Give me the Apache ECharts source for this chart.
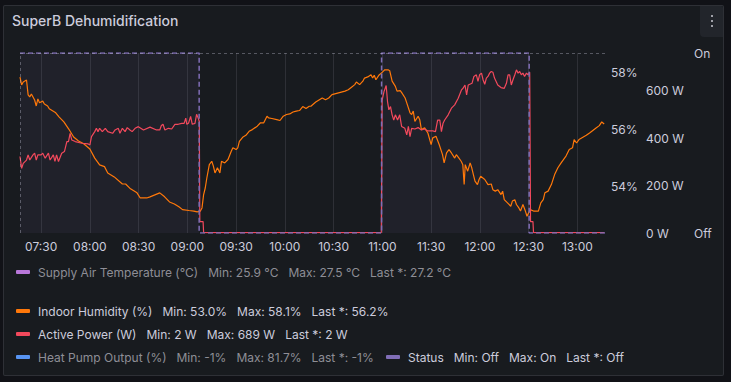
<!DOCTYPE html>
<html>
<head>
<meta charset="utf-8">
<script src="https://cdn.jsdelivr.net/npm/echarts@6/dist/echarts.min.js"></script>
<style>
html,body{margin:0;padding:0;background:#111217;width:731px;height:382px;overflow:hidden;}
#panel{position:absolute;left:3px;top:5px;width:721px;height:371px;background:#181b1f;border:1px solid rgba(204,204,220,0.12);border-radius:2px;box-sizing:border-box;}
#menu{position:absolute;left:700px;top:6px;width:23px;height:31px;background:#22252b;border-radius:0 2px 0 4px;}
#menu i{position:absolute;left:11px;width:2px;height:2px;background:#9fa0a8;}
#chart{position:absolute;left:0;top:0;width:731px;height:382px;}
</style>
</head>
<body>
<div id="panel"></div>
<div id="menu"><i style="top:9px"></i><i style="top:14px"></i><i style="top:19px"></i></div>
<div id="chart"></div>
<script>
// ---------- data ----------
const timeRange = ['07:17', '13:17'];
const timeTicks = ['07:30','08:00','08:30','09:00','09:30','10:00','10:30','11:00','11:30','12:00','12:30','13:00'];

const humidity = [
 ['07:17',57.84],['07:18',57.57],['07:19',57.67],['07:21',57.74],['07:22',57.22],['07:23',57.15],
 ['07:24',57.25],['07:26',57.04],['07:27',56.83],['07:28',57.08],['07:29',56.94],['07:31',57.00],
 ['07:32',56.90],['07:34',56.83],['07:35',56.73],['07:39',56.59],['07:41',56.45],['07:44',56.27],
 ['07:47',56.02],['07:50',55.74],['07:53',55.60],['07:56',55.51],['08:00',55.32],['08:03',55.00],
 ['08:06',54.76],['08:09',54.70],['08:11',54.48],['08:15',54.34],['08:20',54.09],['08:22',54.09],
 ['08:25',53.92],['08:29',53.78],['08:31',53.60],['08:35',53.60],['08:37',53.64],['08:43',53.78],
 ['08:46',53.64],['08:49',53.46],['08:52',53.39],['08:55',53.28],['08:57',53.19],['09:01',53.16],
 ['09:04',53.14],['09:06',53.11],['09:08',53.14],['09:09',53.25],['09:10',53.72],['09:11',53.95],
 ['09:12',54.31],['09:13:30',54.77],['09:15',54.89],['09:16',54.72],['09:17',54.48],['09:18:30',54.66],
 ['09:20',54.48],['09:21',54.89],['09:23',54.83],['09:25',54.95],['09:27',55.24],['09:28',55.36],
 ['09:30',55.30],['09:31',55.36],['09:32',55.59],['09:34',55.73],['09:36',55.80],['09:38',55.94],
 ['09:40',56.00],['09:43',56.12],['09:45',56.24],['09:47',56.24],['09:49',56.47],['09:50',56.41],
 ['09:52',56.39],['09:55',56.35],['09:57',56.32],['09:59',56.47],['10:01',56.53],['10:03',56.55],
 ['10:05',56.62],['10:07',56.65],['10:09',56.67],['10:11',56.81],['10:13',56.74],['10:15',56.82],
 ['10:16',56.82],['10:19',56.97],['10:23',57.11],['10:25',57.05],['10:27',57.11],['10:29',57.23],
 ['10:33',57.29],['10:37',57.35],['10:39',57.40],['10:41',57.49],['10:43',57.58],['10:44',57.67],
 ['10:46',57.58],['10:48',57.70],['10:49',57.81],['10:51',57.85],['10:53',57.93],['10:54',57.81],
 ['10:55',57.91],['10:56',57.75],['10:58',57.92],['11:00',58.02],['11:01:30',58.10],['11:03:30',58.10],
 ['11:04:30',58.07],['11:06',57.70],['11:08',57.52],['11:09',57.35],['11:11',57.37],['11:12',57.29],
 ['11:14',57.11],['11:15',56.94],['11:17',56.59],['11:18',56.53],['11:19',56.65],['11:20',56.29],
 ['11:22',56.47],['11:23',56.35],['11:24',56.00],['11:26',56.06],['11:28',55.88],['11:30',55.47],
 ['11:31',55.71],['11:33',55.77],['11:35',55.47],['11:37',55.12],['11:38',54.83],['11:39:30',55.18],
 ['11:41',55.30],['11:42:30',55.18],['11:44:30',55.00],['11:45:30',55.12],['11:47',55.01],['11:48:30',54.89],
 ['11:49:30',54.77],['11:50:20',54.07],['11:51',54.77],['11:52:30',54.54],['11:54',54.83],['11:55',54.66],
 ['11:56',54.42],['11:57',54.19],['11:58:30',54.07],['11:59:30',54.25],['12:00:30',54.36],['12:03',54.25],
 ['12:05',54.07],['12:07',54.09],['12:08',53.89],['12:09:30',53.84],['12:11',53.89],['12:13',53.72],
 ['12:14',53.84],['12:15',53.54],['12:17',53.43],['12:19',53.31],['12:20',53.49],['12:21:30',53.54],
 ['12:22:30',53.37],['12:24',53.25],['12:25',53.14],['12:26:30',53.37],['12:28',53.14],['12:29',52.96],
 ['12:30',53.08],['12:31',53.19],['12:33',53.14],['12:35',53.14],['12:36',53.14],['12:37:30',53.43],
 ['12:39',53.54],['12:40',53.78],['12:42',53.84],['12:44',54.07],['12:46',54.42],['12:48',54.66],
 ['12:50',54.83],['12:53',55.07],['12:55',55.30],['12:57',55.36],['12:58',55.65],['12:59:30',55.53],
 ['13:01',55.65],['13:05:30',55.80],['13:07:30',55.88],['13:11:30',56.06],['13:13:30',56.14],['13:15',56.27],
 ['13:16:30',56.20]
];

const activePower = [
 ['07:17',323],['07:18',273],['07:19',294],['07:21',308],['07:22',330],['07:23',308],['07:25',330],
 ['07:26',337],['07:27',308],['07:28',330],['07:30',330],['07:31',337],['07:32:30',316],['07:34:30',337],
 ['07:35:30',308],['07:37:30',330],['07:38:30',302],['07:39:30',330],['07:40:40',302],['07:42:40',337],
 ['07:44:20',344],['07:45:50',386],['07:46:50',386],['07:47:50',421],['07:48:50',393],['07:51',386],
 ['07:55',379],['07:59',376],['08:00',372],['08:01',407],['08:03',428],['08:04',442],['08:05',428],
 ['08:06',442],['08:07:40',428],['08:09:30',442],['08:11',428],['08:14',421],['08:15:30',435],
 ['08:17:30',442],['08:18:30',421],['08:20',442],['08:21:40',428],['08:23',445],['08:24:40',435],
 ['08:26',428],['08:27:50',442],['08:29:50',449],['08:33',435],['08:37',447],['08:41',435],['08:43',435],
 ['08:44',454],['08:45',459],['08:46:10',435],['08:48:20',442],['08:50:20',439],['08:52:20',459],
 ['08:54:20',459],['08:56:30',463],['08:58',463],['08:59',485],['08:59:40',459],['09:00:40',463],
 ['09:02',492],['09:03',459],['09:04:40',463],['09:05:40',501],['09:06:40',485],['09:07:20',471],
 ['09:07:40',48],['09:09:40',48],['09:10',2],['10:59:20',2],['10:59:50',560],['11:01',597],
 ['11:02:20',623],['11:03:10',555],['11:04',520],['11:05',534],['11:06',499],['11:07',477],['11:08',499],
 ['11:09:20',477],['11:10:40',499],['11:11:50',450],['11:13:50',442],['11:15',414],['11:16',450],
 ['11:17',407],['11:18',442],['11:20',439],['11:22',445],['11:24',435],['11:26',439],['11:28',431],
 ['11:31',431],['11:32:40',428],['11:34',477],['11:35:20',477],['11:36:20',428],['11:37:20',463],
 ['11:38:20',477],['11:40:30',499],['11:42:30',527],['11:44:30',541],['11:46:40',569],['11:48:40',604],
 ['11:49:40',611],['11:50:50',625],['11:51:50',583],['11:52:50',625],['11:53:50',628],['11:55:10',632],
 ['11:56:20',661],['11:57:50',668],['11:58:50',640],['11:59:50',668],['12:01',675],['12:02',646],
 ['12:03',628],['12:04',654],['12:05',661],['12:06',675],['12:07',682],['12:08',679],['12:09',654],
 ['12:10',640],['12:11',625],['12:13',614],['12:15',611],['12:16:20',632],['12:17:20',668],['12:18:20',668],
 ['12:19:20',625],['12:20:20',646],['12:21:30',668],['12:22:30',689],['12:23:30',675],['12:24:30',682],
 ['12:25:30',668],['12:26:30',675],['12:27:30',661],['12:28:40',675],['12:29:40',668],['12:30:40',679],
 ['12:31:10',48],['12:32:40',48],['12:33',2],['13:16:30',2]
];

// 1 = On, 0 = Off (change points)
const status = [['07:17',1],['09:07:15',0],['10:59:30',1],['12:30:20',0],['13:17',0]];

// hidden series (no drawn data)
const supplyAirTemp = [];
const heatPumpOutput = [];

const humidityTicks = [54, 56, 58];
const powerTicks = [0, 200, 400, 600];
const statusTicks = [0, 1];
const statusLabels = ['Off', 'On'];

const legendNames = ['Supply Air Temperature (°C)', 'Indoor Humidity (%)', 'Active Power (W)', 'Heat Pump Output (%)', 'Status'];
const legendMin = ['25.9 °C', '53.0%', '2 W', '-1%', 'Off'];
const legendMax = ['27.5 °C', '58.1%', '689 W', '81.7%', 'On'];
const legendLast = ['27.2 °C', '56.2%', '2 W', '-1%', 'Off'];
const legendHidden = [true, false, false, true, false];

// ---------- style / layout ----------
const seriesColors = ['#B877D9', '#FF780A', '#F2495C', '#5794F2', '#806EB7'];
const legendLeft = [16, 16, 16, 16, 386];
const legendTop = [265, 304, 327, 350, 350];
const txt = '#ccccdc';
const txtDim = '#8e8e96';
const FONT = 'Inter';

function ts(s) {
  const p = s.split(':').map(Number);
  return new Date(2024, 0, 15, p[0], p[1], p[2] || 0).getTime();
}
function hhmm(v) {
  const d = new Date(v);
  return String(d.getHours()).padStart(2, '0') + ':' + String(d.getMinutes()).padStart(2, '0');
}
const toPairs = arr => arr.map(d => [ts(d[0]), d[1]]);
const tickValues = timeTicks.map(ts);

const legends = legendNames.map((name, i) => {
  const c = legendHidden[i] ? txtDim : txt;
  return {
    data: [{ name: name }],
    left: legendLeft[i], top: legendTop[i], padding: 0,
    icon: 'roundRect', itemWidth: 14, itemHeight: 4,
    selectedMode: false,
    itemStyle: { borderWidth: 0 },
    formatter: n => '{n|' + n + '}{v|Min: ' + legendMin[i] + '}{v|Max: ' + legendMax[i] + '}{v|Last *: ' + legendLast[i] + '}',
    textStyle: {
      color: c, fontSize: 12, fontFamily: FONT, lineHeight: 14,
      rich: {
        n: { color: c, fontSize: 12, fontFamily: FONT, padding: [0, 0, 0, 3] },
        v: { color: c, fontSize: 12, fontFamily: FONT, padding: [0, 0, 0, 10] }
      }
    }
  };
});

const axisLabelBase = { color: txt, fontSize: 12, fontFamily: FONT };

const chart = echarts.init(document.getElementById('chart'), null, { renderer: 'svg' });
chart.setOption({
  animation: false,
  backgroundColor: 'transparent',
  textStyle: { fontFamily: FONT },
  title: {
    text: 'SuperB Dehumidification', left: 12, top: 13, padding: 0,
    textStyle: { color: txt, fontSize: 14, fontWeight: 500, fontFamily: FONT }
  },
  legend: legends,
  grid: { left: 20, right: 126, top: 53, bottom: 149, containLabel: false, outerBoundsMode: 'none' },
  xAxis: {
    type: 'value', min: ts(timeRange[0]), max: ts(timeRange[1]), scale: true,
    axisLine: { show: false },
    axisTick: { show: false, customValues: tickValues },
    splitLine: { show: false },
    axisLabel: Object.assign({}, axisLabelBase, {
      margin: 7, customValues: tickValues, hideOverlap: false, formatter: v => hhmm(v)
    })
  },
  yAxis: [
    {
      type: 'value', position: 'right', min: 52.37, max: 58.69, offset: 0,
      axisLine: { show: false }, axisTick: { show: false }, splitLine: { show: false },
      axisLabel: Object.assign({}, axisLabelBase, { margin: 6, customValues: humidityTicks, formatter: v => v + '%' })
    },
    {
      type: 'value', position: 'right', min: 0, max: 760, offset: 33,
      axisLine: { show: false }, axisTick: { show: false }, splitLine: { show: false },
      axisLabel: Object.assign({}, axisLabelBase, { margin: 8, customValues: powerTicks, formatter: v => v + ' W' })
    },
    {
      type: 'value', position: 'right', min: 0, max: 1, offset: 81,
      axisLine: { show: false }, axisTick: { show: false }, splitLine: { show: false },
      axisLabel: Object.assign({}, axisLabelBase, { margin: 8, customValues: statusTicks, formatter: v => statusLabels[Math.round(v)] })
    }
  ],
  series: [
    { name: legendNames[0], type: 'line', yAxisIndex: 0, z: 1, data: toPairs(supplyAirTemp), showSymbol: false,
      itemStyle: { color: seriesColors[0] }, lineStyle: { color: seriesColors[0], width: 1 },
      markLine: {
        silent: true, symbol: 'none', label: { show: false }, z: 1,
        lineStyle: { color: 'rgba(204,204,220,0.12)', type: 'solid', width: 1 },
        data: tickValues.map(t => ({ xAxis: t }))
      }
    },
    { name: legendNames[1], type: 'line', yAxisIndex: 0, data: toPairs(humidity), showSymbol: false,
      itemStyle: { color: seriesColors[1] }, lineStyle: { color: seriesColors[1], width: 1.2 } },
    { name: legendNames[2], type: 'line', yAxisIndex: 1, data: toPairs(activePower), showSymbol: false,
      itemStyle: { color: seriesColors[2] }, lineStyle: { color: seriesColors[2], width: 1.2 } },
    { name: legendNames[3], type: 'line', yAxisIndex: 0, data: toPairs(heatPumpOutput), showSymbol: false,
      itemStyle: { color: seriesColors[3] }, lineStyle: { color: seriesColors[3], width: 1 } },
    { name: legendNames[4], type: 'line', yAxisIndex: 2, data: toPairs(status), showSymbol: false, step: 'end',
      itemStyle: { color: seriesColors[4] },
      lineStyle: { color: seriesColors[4], width: 1.5, type: [5, 3] },
      areaStyle: { color: 'rgba(128,110,183,0.11)' },
      markLine: {
        silent: true, symbol: 'none', label: { show: false },
        lineStyle: { color: 'rgba(204,204,220,0.35)', type: [3, 3], width: 1 },
        data: [{ yAxis: 1 }, { xAxis: ts(timeRange[0]) }]
      }
    }
  ]
});
</script>
</body>
</html>
